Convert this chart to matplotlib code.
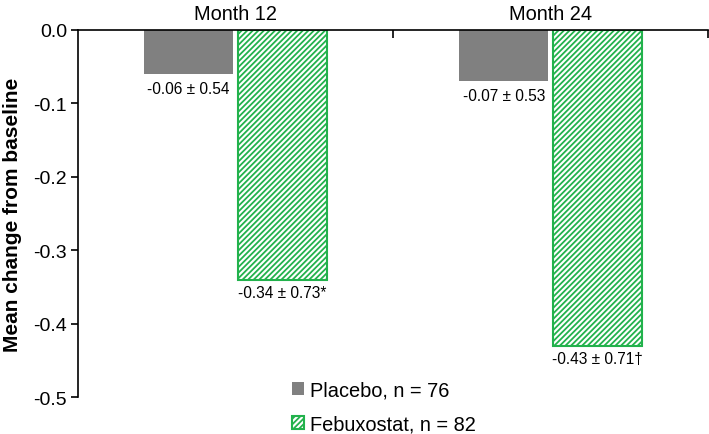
import numpy as np
import matplotlib.pyplot as plt

plt.rcParams['font.family'] = ['Liberation Sans', 'DejaVu Sans']
plt.rcParams['hatch.linewidth'] = 1.3

# Data
months = ['Month 12', 'Month 24']
placebo = [-0.06, -0.07]
febux = [-0.34, -0.43]
placebo_lbl = ['-0.06 ± 0.54', '-0.07 ± 0.53']
febux_lbl = ['-0.34 ± 0.73*', '-0.43 ± 0.71†']
yticks = [-0.5, -0.4, -0.3, -0.2, -0.1, 0.0]
ytick_lbl = ['-0.5', '-0.4', '-0.3', '-0.2', '-0.1', '0.0']

gray = '#808080'
green = '#22b24c'

fig = plt.figure(figsize=(7.09, 4.35), dpi=100)
ax = fig.add_axes([0.110, 0.085, 0.889, 0.844])

x = np.arange(len(months))
w = 0.283
off = 0.149
ax.bar(x - off, placebo, w, color=gray, label='Placebo, n = 76')
ax.bar(x + off, febux, w, color='white', edgecolor=green, hatch='//////',
       linewidth=1.5, label='Febuxostat, n = 82')

for i in range(len(months)):
    ax.text(x[i] - off, placebo[i] - 0.009, placebo_lbl[i], ha='center', va='top', fontsize=11.2)
    ax.text(x[i] + off, febux[i] - 0.007, febux_lbl[i], ha='center', va='top', fontsize=11.2)

ax.set_xlim(-0.5, 1.5)
ax.set_ylim(-0.5, 0.0)
ax.set_yticks(yticks)
ax.set_yticklabels(ytick_lbl, fontsize=14)
ax.set_ylabel('Mean change from baseline', fontsize=15, fontweight='bold', labelpad=8)

# category labels on top, ticks at category boundaries
ax.xaxis.tick_top()
ax.set_xticks([0.5, 1.5])
ax.set_xticklabels([])
ax.tick_params(axis='x', direction='in', length=6, width=1.2)
ax.tick_params(axis='y', direction='out', length=5, width=1.2, pad=3)
for i, m in enumerate(months):
    ax.text(x[i], 1.02, m, transform=ax.get_xaxis_transform(), ha='center', va='bottom', fontsize=14.4)

ax.spines['bottom'].set_visible(False)
ax.spines['right'].set_visible(False)
ax.spines['top'].set_linewidth(1.2)
ax.spines['left'].set_linewidth(1.2)

ax.legend(loc='center left', bbox_to_anchor=(0.34, -0.027), frameon=False, fontsize=14.4,
          handlelength=0.6, handleheight=0.6, handletextpad=0.3, labelspacing=0.75,
          borderpad=0, borderaxespad=0)

fig.savefig('out.png', dpi=100)
